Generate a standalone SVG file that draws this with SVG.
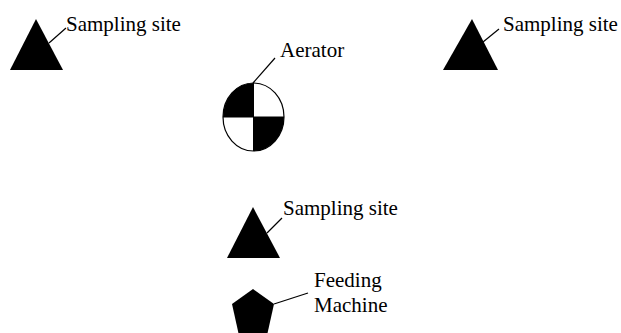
<svg xmlns="http://www.w3.org/2000/svg" width="621" height="333" viewBox="0 0 621 333">
  <style>
    .label { font-family: 'Liberation Serif', 'Times New Roman', 'DejaVu Serif', serif; font-size: 21px; fill: #000; }
    .lead { stroke: #000; stroke-width: 1.2; fill: none; }
    .solid { fill: #000; stroke: none; }
  </style>
  <rect width="621" height="333" fill="#fff"/>

  <g id="connectors">
    <line class="lead" x1="49" y1="43" x2="66" y2="28"/>
    <line class="lead" x1="483" y1="42" x2="499" y2="29"/>
    <line class="lead" x1="253" y1="83" x2="275" y2="58"/>
    <line class="lead" x1="267" y1="233" x2="282" y2="218"/>
    <line class="lead" x1="274" y1="304" x2="308" y2="293"/>
  </g>

  <g id="site-left">
    <polygon class="solid" points="36,19 63,70 10,70"/>
    <text class="label" font-family="Liberation Serif, serif" x="66" y="31">Sampling site</text>
  </g>

  <g id="site-right">
    <polygon class="solid" points="472,19 498,70 443,70"/>
    <text class="label" font-family="Liberation Serif, serif" x="503" y="31">Sampling site</text>
  </g>

  <g id="aerator">
    <ellipse cx="253.5" cy="117" rx="30.5" ry="34" fill="#fff" stroke="#000" stroke-width="1.2"/>
    <path class="solid" d="M253.5,117 L253.5,83 A30.5,34 0 0 0 223,117 Z"/>
    <path class="solid" d="M253.5,117 L253.5,151 A30.5,34 0 0 0 284,117 Z"/>
    <line stroke="#000" stroke-width="1" x1="223" y1="117" x2="284" y2="117"/>
    <line stroke="#000" stroke-width="1" x1="253.5" y1="83" x2="253.5" y2="151"/>
    <text class="label" font-family="Liberation Serif, serif" x="280" y="57">Aerator</text>
  </g>

  <g id="site-center">
    <polygon class="solid" points="253,207 280,258 227,258"/>
    <text class="label" font-family="Liberation Serif, serif" x="283" y="215">Sampling site</text>
  </g>

  <g id="feeding-machine">
    <polygon class="solid" points="253,289 274,304 266,340 240,340 232,304"/>
    <text class="label" font-family="Liberation Serif, serif" x="314" y="287">Feeding</text>
    <text class="label" font-family="Liberation Serif, serif" x="314" y="312">Machine</text>
  </g>
</svg>
